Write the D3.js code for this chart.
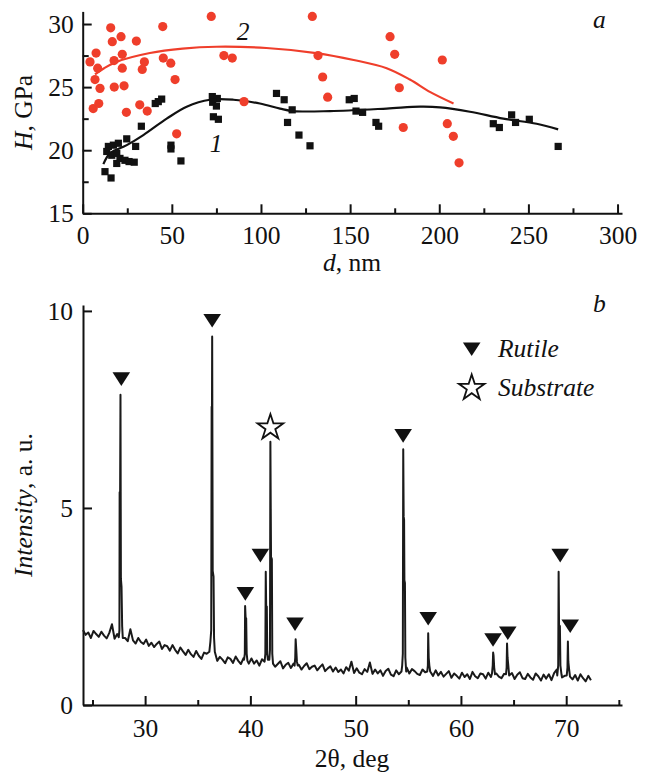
<!DOCTYPE html>
<html><head><meta charset="utf-8">
<script src="https://cdn.jsdelivr.net/npm/d3@7/dist/d3.min.js"></script>
<style>
html,body{margin:0;padding:0;background:#fff;}
svg{display:block;}
text{font-family:"Liberation Serif","Times New Roman",serif;fill:#111;}
</style></head>
<body>
<svg id="chart" width="649" height="776"></svg>
<script>
// ---------- Panel a data ----------
const redD = [4.1,7.5,8.4,6.9,9.7,5.9,9.0,15.7,16.6,17.6,17.7,21.5,22.2,22.2,23.2,24.5,30.1,32.0,34.6,33.4,36.2,44.9,45.2,49.4,51.8,52.7,72.1,79.2,83.9,90.5,128.8,132.0,134.6,137.4,172.4,175.0,177.6,179.8,201.7,204.5,207.9,211.1];
const redH = [27.0,27.7,26.5,25.6,24.9,23.3,23.7,29.7,28.6,27.1,25.0,29.0,27.6,26.5,25.1,23.0,28.65,23.6,27.0,26.4,23.1,29.8,27.3,26.9,25.6,21.3,30.6,27.5,27.3,23.85,30.6,27.5,25.8,24.2,29.0,27.6,24.95,21.8,27.15,22.1,21.1,19.0];
const blackD = [12.5,15.9,14.4,17.2,20.0,13.5,16.3,19.1,20.9,19.1,23.7,26.0,28.9,24.7,29.7,32.9,40.7,42.4,44.3,49.5,49.5,55.1,72.7,75.5,72.9,75.0,73.3,76.1,108.7,113.0,114.9,117.5,121.3,127.5,149.5,152.3,153.3,157.0,164.5,166.0,230.3,233.7,240.6,242.8,250.5,266.7];
const blackH = [18.3,17.8,20.3,20.4,20.55,19.9,19.6,19.75,19.35,18.95,19.2,19.1,19.05,20.9,20.3,21.9,23.7,23.85,24.05,20.4,20.1,19.15,24.25,24.1,23.8,23.5,22.65,22.45,24.5,24.0,22.2,23.2,21.2,20.35,24.0,24.1,23.1,23.0,22.2,21.9,22.1,21.8,22.8,22.2,22.45,20.3];
const fitRedD = [6.9,12,19,37.7,56,75,103,131,152,170.5,183.5,195,208];
const fitRedH = [26.0,26.5,27.0,27.7,28.05,28.2,28.1,27.7,27.15,26.5,25.6,24.6,23.7];
const fitBlackD = [11.6,15.3,24.7,34,47.1,58.3,71.4,84.5,99.4,110.7,118.1,138.7,170.5,189.2,200.4,217.2,235.9,254.6,266.7];
const fitBlackH = [18.9,19.75,20.4,21.2,22.5,23.45,24.0,24.0,23.7,23.3,23.1,23.1,23.3,23.45,23.4,23.05,22.5,22.1,21.65];
const aXTicks = [0,50,100,150,200,250,300];
const aXMinor = [25,75,125,175,225,275];
const aYTicks = [15,20,25,30];
const aYMinor = [17.5,22.5,27.5];

// ---------- Panel b data ----------
const baseStart = 24.1, baseStep = 0.25;
const baseI = [
1.90,1.78,1.84,1.70,1.88,1.80,1.73,1.86,
1.76,1.69,1.83,2.05,1.68,1.80,1.72,1.66,
1.70,1.62,1.92,1.64,1.56,1.70,1.60,1.55,
1.66,1.50,1.58,1.47,1.55,1.61,1.42,1.52,
1.49,1.38,1.52,1.40,1.31,1.46,1.36,1.27,
1.40,1.29,1.22,1.37,1.25,1.17,1.33,1.30,
1.35,1.60,1.40,1.12,1.22,1.15,1.06,1.21,
1.17,1.07,1.23,1.12,1.04,1.19,1.10,1.05,
1.18,1.05,1.13,1.00,1.16,1.22,1.04,1.20,
1.08,0.97,1.04,1.11,0.93,1.02,1.07,0.94,
1.05,0.95,1.02,0.90,0.99,1.06,0.91,0.97,
1.00,0.88,0.96,1.03,0.86,0.93,0.98,0.85,
0.95,0.84,0.90,0.80,0.96,0.87,1.10,0.81,
0.93,0.82,0.78,0.91,0.84,1.08,0.79,0.90,
0.80,0.88,0.74,0.86,0.92,0.77,0.73,0.88,
0.78,0.90,0.82,0.95,0.80,0.91,0.86,0.79,
0.76,0.90,0.83,0.93,0.80,0.74,0.88,0.75,
0.84,0.72,0.79,0.86,0.69,0.80,0.74,0.67,
0.82,0.71,0.78,0.66,0.84,0.73,0.68,0.80,
0.78,0.67,0.82,0.71,0.65,0.80,0.72,0.68,
0.79,0.86,0.70,0.81,0.66,0.77,0.83,0.68,
0.66,0.79,0.70,0.64,0.80,0.73,0.62,0.77,
0.67,0.78,0.63,0.81,0.90,0.84,0.70,0.74,
0.78,0.84,0.65,0.76,0.62,0.78,0.68,0.60,
0.74,0.63];
const peak1 = [[27.5,1.72],[27.56,1.9],[27.58,5.4],[27.62,5.0],[27.66,7.87],[27.7,3.2],[27.76,3.0],[27.82,2.0],[27.88,1.7]];
const peak2 = [[36.1,1.35],[36.2,1.6],[36.28,1.9],[36.32,7.57],[36.35,7.3],[36.37,9.35],[36.42,3.4],[36.5,3.26],[36.55,1.7],[36.62,1.35]];
const peak3 = [[39.4,1.15],[39.47,1.3],[39.5,2.51],[39.55,2.2],[39.6,2.2],[39.65,1.3],[39.72,1.12]];
const peak4 = [[41.35,1.1],[41.42,1.3],[41.46,3.38],[41.5,2.5],[41.56,2.5],[41.6,1.3],[41.66,1.15]];
const peak5 = [[41.8,1.15],[41.86,1.4],[41.9,6.68],[41.96,3.76],[42.04,3.7],[42.08,1.3],[42.15,1.05]];
const peak6 = [[44.2,1.0],[44.26,1.2],[44.3,1.67],[44.36,1.4],[44.42,1.1],[44.5,1.0]];
const peak7 = [[54.35,0.85],[54.42,1.0],[54.48,1.3],[54.52,6.49],[54.56,4.78],[54.6,4.7],[54.63,3.17],[54.68,3.1],[54.72,1.2],[54.8,0.85]];
const peak8 = [[56.8,0.85],[56.86,1.0],[56.89,1.82],[56.94,1.2],[57.0,1.0],[57.08,0.85]];
const peak9 = [[62.95,0.8],[63.02,1.0],[63.06,1.33],[63.1,1.25],[63.16,0.95],[63.24,0.78]];
const peak10 = [[64.28,0.78],[64.34,0.95],[64.38,1.56],[64.43,1.2],[64.5,1.0],[64.58,0.75]];
const peak11 = [[69.15,0.75],[69.24,1.0],[69.28,3.38],[69.32,2.03],[69.4,2.0],[69.45,1.0],[69.55,0.78]];
const peak12 = [[70.05,0.75],[70.12,0.95],[70.16,1.61],[70.2,1.1],[70.28,0.9],[70.36,0.72]];
const rutileT = [27.74,36.37,39.52,40.95,44.24,54.51,56.89,63.05,64.45,69.43,70.38];
const rutileI = [8.27,9.75,2.82,3.79,2.05,6.83,2.19,1.65,1.82,3.79,2.0];
const substrateT = [41.9];
const substrateI = [7.04];
const bXTicks = [30,40,50,60,70];
const bXMinor = [25,35,45,55,65,75];
const bYTicks = [0,5,10];

// ---------- drawing ----------
const svg = d3.select("#chart");
const FS = 25.5;
const redC = "#ef3e2b";

function styleAxis(g, fs){
  g.selectAll("path.domain").attr("stroke","#111").attr("stroke-width",2);
  g.selectAll(".tick line").attr("stroke","#111").attr("stroke-width",2);
  g.selectAll(".tick text").attr("font-family","Liberation Serif, Times New Roman, serif").attr("font-size",fs).attr("fill","#111");
}

// Panel a
const xA = d3.scaleLinear([0,302.5],[82.7,622]);
const yA = d3.scaleLinear([15,31],[213.3,11.4]);
const gA = svg.append("g");

const axA_x = gA.append("g").attr("transform",`translate(0,${yA(15)})`)
  .call(d3.axisBottom(xA).tickValues(aXTicks).tickSize(-9).tickSizeOuter(0).tickPadding(13));
styleAxis(axA_x, FS);
const axA_xm = gA.append("g").attr("transform",`translate(0,${yA(15)})`)
  .call(d3.axisBottom(xA).tickValues(aXMinor).tickSize(-5).tickSizeOuter(0).tickFormat(""));
styleAxis(axA_xm, FS); axA_xm.select("path.domain").remove();
const axA_y = gA.append("g").attr("transform",`translate(${xA(0)},0)`)
  .call(d3.axisLeft(yA).tickValues(aYTicks).tickSize(-9).tickSizeOuter(0).tickPadding(9));
styleAxis(axA_y, FS);
const axA_ym = gA.append("g").attr("transform",`translate(${xA(0)},0)`)
  .call(d3.axisLeft(yA).tickValues(aYMinor).tickSize(-6).tickSizeOuter(0).tickFormat(""));
styleAxis(axA_ym, FS); axA_ym.select("path.domain").remove();

const lineA = d3.line().x(d=>xA(d[0])).y(d=>yA(d[1])).curve(d3.curveCatmullRom.alpha(0.5));
gA.append("path").datum(fitBlackD.map((d,i)=>[d,fitBlackH[i]]))
  .attr("d",lineA).attr("fill","none").attr("stroke","#111").attr("stroke-width",2.2);
gA.append("path").datum(fitRedD.map((d,i)=>[d,fitRedH[i]]))
  .attr("d",lineA).attr("fill","none").attr("stroke",redC).attr("stroke-width",2.2);

gA.selectAll("circle.red").data(redD.map((d,i)=>[d,redH[i]])).join("circle")
  .attr("cx",d=>xA(d[0])).attr("cy",d=>yA(d[1])).attr("r",4.6).attr("fill",redC);
gA.selectAll("rect.blk").data(blackD.map((d,i)=>[d,blackH[i]])).join("rect")
  .attr("x",d=>xA(d[0])-3.6).attr("y",d=>yA(d[1])-3.6).attr("width",7.2).attr("height",7.2).attr("fill","#111");

gA.append("text").attr("x",243).attr("y",40).attr("text-anchor","middle").attr("font-size",FS).attr("font-style","italic").text("2");
gA.append("text").attr("x",216).attr("y",152).attr("text-anchor","middle").attr("font-size",FS).attr("font-style","italic").text("1");
gA.append("text").attr("x",593).attr("y",28).attr("font-size",FS).attr("font-style","italic").text("a");
const dl = gA.append("text").attr("x",352).attr("y",271).attr("text-anchor","middle").attr("font-size",FS);
dl.append("tspan").attr("font-style","italic").text("d");
dl.append("tspan").text(", nm");
const hl = gA.append("text").attr("transform",`translate(32,${(yA(15)+yA(31))/2}) rotate(-90)`).attr("text-anchor","middle").attr("font-size",FS);
hl.append("tspan").attr("font-style","italic").text("H");
hl.append("tspan").text(", GPa");

// Panel b
const xB = d3.scaleLinear([24.1,75.3],[83,622]);
const yB = d3.scaleLinear([0,10.15],[705,305]);
const gB = svg.append("g");

const axB_x = gB.append("g").attr("transform",`translate(0,${yB(0)})`)
  .call(d3.axisBottom(xB).tickValues(bXTicks).tickSize(-9).tickSizeOuter(0).tickPadding(14));
styleAxis(axB_x, FS);
const axB_xm = gB.append("g").attr("transform",`translate(0,${yB(0)})`)
  .call(d3.axisBottom(xB).tickValues(bXMinor).tickSize(-5).tickSizeOuter(0).tickFormat(""));
styleAxis(axB_xm, FS); axB_xm.select("path.domain").remove();
const axB_y = gB.append("g").attr("transform",`translate(${xB(24.1)},0)`)
  .call(d3.axisLeft(yB).tickValues(bYTicks).tickSize(-9).tickSizeOuter(0).tickPadding(10));
styleAxis(axB_y, FS);

const peaks = [peak1,peak2,peak3,peak4,peak5,peak6,peak7,peak8,peak9,peak10,peak11,peak12];
const basePts = baseI.map((v,i)=>[baseStart+baseStep*i, v])
  .filter(([x])=>!peaks.some(p=>x>=p[0][0]-0.02 && x<=p[p.length-1][0]+0.02));
const spec = basePts.concat(...peaks).sort((a,b)=>a[0]-b[0]);
const lineB = d3.line().x(d=>xB(d[0])).y(d=>yB(d[1]));
gB.append("path").datum(spec).attr("d",lineB).attr("fill","none")
  .attr("stroke","#1a1a1a").attr("stroke-width",2).attr("stroke-linejoin","round");

const triType = {draw(ctx,size){ ctx.moveTo(-8.8,-6.8); ctx.lineTo(8.8,-6.8); ctx.lineTo(0,6.8); ctx.closePath(); }};
const triSym = d3.symbol().type(triType);
const starSym = d3.symbol().type(d3.symbolStar).size(205);

gB.selectAll("path.tri").data(rutileT.map((t,i)=>[t,rutileI[i]])).join("path")
  .attr("transform",d=>`translate(${xB(d[0])},${yB(d[1])})`).attr("d",triSym).attr("fill","#111");
gB.selectAll("path.star").data(substrateT.map((t,i)=>[t,substrateI[i]])).join("path")
  .attr("transform",d=>`translate(${xB(d[0])},${yB(d[1])})`).attr("d",starSym)
  .attr("fill","#fff").attr("stroke","#111").attr("stroke-width",1.8).attr("stroke-linejoin","miter");

// legend
gB.append("path").attr("transform","translate(471.7,349.3)").attr("d",triSym).attr("fill","#111");
gB.append("path").attr("transform","translate(471.7,388)").attr("d",starSym).attr("fill","#fff").attr("stroke","#111").attr("stroke-width",1.8);
gB.append("text").attr("x",498).attr("y",357).attr("font-size",FS).attr("font-style","italic").text("Rutile");
gB.append("text").attr("x",498).attr("y",396).attr("font-size",FS).attr("font-style","italic").text("Substrate");

gB.append("text").attr("x",593).attr("y",312).attr("font-size",FS).attr("font-style","italic").text("b");
gB.append("text").attr("x",352).attr("y",767).attr("text-anchor","middle").attr("font-size",FS).text("2θ, deg");
const il = gB.append("text").attr("transform",`translate(32,${(yB(0)+yB(10.15))/2}) rotate(-90)`).attr("text-anchor","middle").attr("font-size",FS);
il.append("tspan").attr("font-style","italic").text("Intensity");
il.append("tspan").text(", a. u.");
</script>
</body></html>
